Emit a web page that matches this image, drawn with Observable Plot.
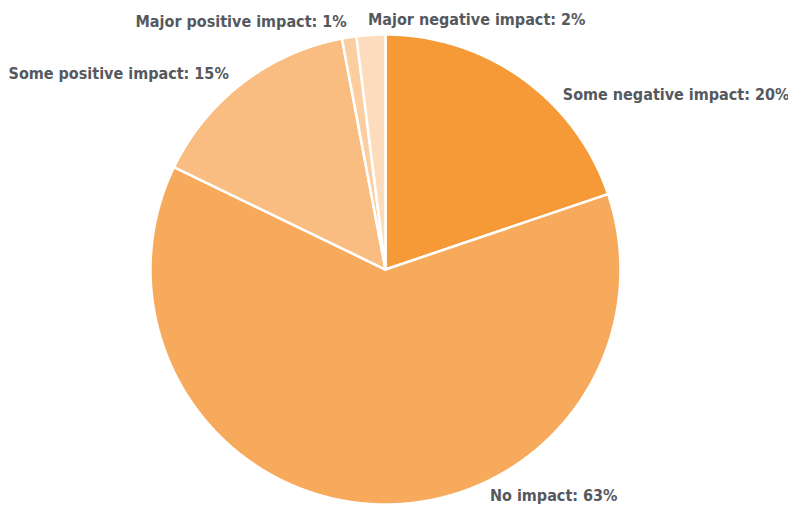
<!DOCTYPE html>
<html>
<head>
<meta charset="utf-8">
<script src="https://cdn.jsdelivr.net/npm/d3@7"></script>
<script src="https://cdn.jsdelivr.net/npm/@observablehq/plot@0.6"></script>
<style>
  html, body { margin: 0; padding: 0; background: #fff; }
  #chart svg { display: block; }
</style>
</head>
<body>
<div id="chart"></div>
<script>
// Survey responses: share of respondents by perceived impact
const categories = ["Some negative impact", "No impact", "Some positive impact", "Major positive impact", "Major negative impact"];
const shares = [20, 63, 15, 1, 2];
const colors = ["#f59a36", "#f7aa5c", "#f9bd81", "#fbcd9f", "#fddcbd"];

// Where along each slice its label sits (0 = slice start, 1 = slice end)
const labelFraction = {"Some negative impact": 0.642, "No impact": 0.372, "Some positive impact": 0.475};
// Thin slices near the top split their labels to either side
const labelSide = {"Major negative impact": "start", "Major positive impact": "end"};

const rows = categories.map((c, i) => ({category: c, value: shares[i]}));
const arcs = d3.pie().sort(null).value(d => d.value)(rows);

// Outline of each slice as a closed polygon in unit-circle coordinates
const outline = [];
for (const a of arcs) {
  const n = Math.max(4, Math.ceil((a.endAngle - a.startAngle) / 0.005));
  outline.push({category: a.data.category, x: 0, y: 0});
  for (let k = 0; k <= n; k++) {
    const t = a.startAngle + (a.endAngle - a.startAngle) * k / n;
    outline.push({category: a.data.category, x: Math.sin(t), y: Math.cos(t)});
  }
}

// Label anchor points just outside the rim
const labelRadius = 1.065;
const labels = arcs.map(a => {
  const c = a.data.category;
  const f = labelFraction[c] ?? 0.5;
  const t = a.startAngle + (a.endAngle - a.startAngle) * f;
  return {
    text: `${c}: ${a.data.value}%`,
    x: Math.sin(t) * labelRadius,
    y: Math.cos(t) * labelRadius,
    anchor: labelSide[c] ?? (Math.sin(t) >= 0 ? "start" : "end")
  };
});

const textStyle = {
  x: "x", y: "y", text: "text",
  fill: "#55595e", fontSize: 16, fontWeight: 700,
  lineAnchor: "middle"
};

const chart = Plot.plot({
  width: 788,
  height: 508,
  marginLeft: 150,
  marginRight: 168,
  marginTop: 34,
  marginBottom: 4,
  x: {domain: [-1, 1], axis: null},
  y: {domain: [-1, 1], axis: null},
  color: {domain: categories, range: colors},
  style: {fontFamily: "'DejaVu Sans Condensed', 'DejaVu Sans', sans-serif", background: "#fff", overflow: "visible"},
  marks: [
    Plot.line(outline, {
      x: "x", y: "y", z: "category", fill: "category",
      stroke: "#fff", strokeWidth: 2.5, strokeLinejoin: "round",
      curve: "linear-closed"
    }),
    Plot.text(labels.filter(d => d.anchor === "start"), {...textStyle, textAnchor: "start", dx: -2}),
    Plot.text(labels.filter(d => d.anchor === "end"), {...textStyle, textAnchor: "end"})
  ]
});

document.getElementById("chart").appendChild(chart);
</script>
</body>
</html>
